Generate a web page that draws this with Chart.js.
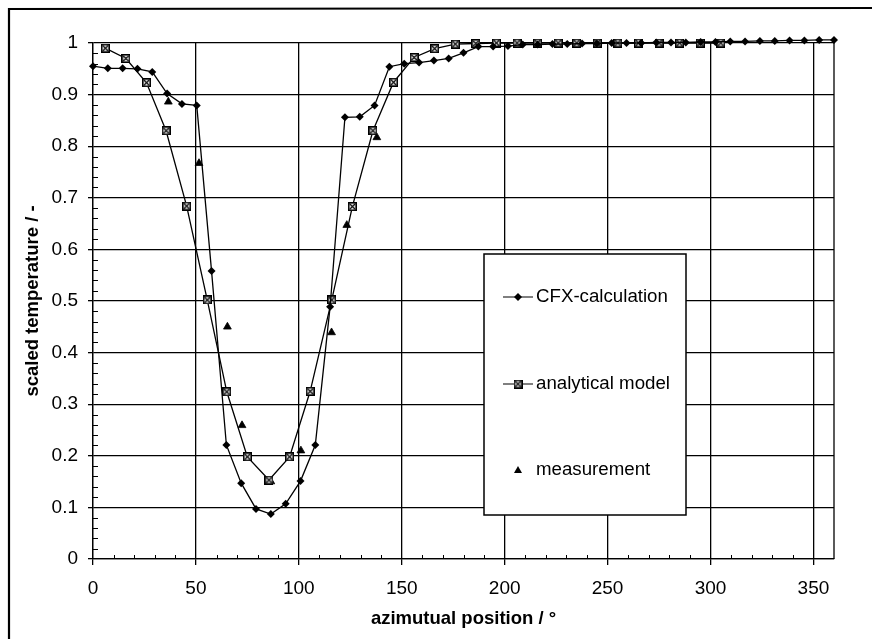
<!DOCTYPE html>
<html>
<head>
<meta charset="utf-8">
<script src="https://cdn.jsdelivr.net/npm/chart.js@4.4.1/dist/chart.umd.min.js"></script>
<style>
  html, body { margin: 0; padding: 0; background: #fff; }
</style>
</head>
<body>
<canvas id="chart" width="872" height="639"></canvas>
<script>
// CFX-calculation
const cfxAngle = [0, 7.2, 14.4, 21.6, 28.8, 36, 43.2, 50.4, 57.6, 64.8, 72, 79.2, 86.4, 93.6, 100.8, 108,
  115.2, 122.4, 129.6, 136.8, 144, 151.2, 158.4, 165.6, 172.8, 180, 187.2, 194.4, 201.6, 208.8, 216,
  223.2, 230.4, 237.6, 244.8, 252, 259.2, 266.4, 273.6, 280.8, 288, 295.2, 302.4, 309.6, 316.8, 324,
  331.2, 338.4, 345.6, 352.8, 360];
const cfxTemp = [0.955, 0.951, 0.951, 0.950, 0.944, 0.902, 0.882, 0.879, 0.558, 0.221, 0.147, 0.097, 0.087, 0.107, 0.151, 0.221,
  0.489, 0.856, 0.857, 0.879, 0.954, 0.960, 0.962, 0.966, 0.970, 0.981, 0.993, 0.993, 0.994, 0.997, 0.997,
  0.998, 0.998, 0.999, 0.999, 1.000, 1.000, 1.000, 1.001, 1.001, 1.001, 1.002, 1.002, 1.003, 1.003, 1.004,
  1.004, 1.005, 1.005, 1.006, 1.006];

// analytical model
const modelAngle = [6, 16, 26, 35.5, 45.5, 55.5, 65, 75, 85.5, 95.5, 105.5, 116, 126, 136, 146, 156,
  166, 176, 186, 196, 206, 216, 226, 235, 245, 255, 265, 275, 285, 295, 305];
const modelTemp = [0.990, 0.970, 0.923, 0.830, 0.684, 0.502, 0.324, 0.198, 0.153, 0.198, 0.325, 0.502, 0.683, 0.830, 0.924, 0.972,
  0.989, 0.998, 0.999, 1.0, 1.0, 1.0, 1.0, 1.0, 1.0, 1.0, 1.0, 1.0, 1.0, 1.0, 1.0];

// measurement
const measAngle = [36.6, 51.5, 65.3, 72.4, 86.4, 101, 115.9, 123.3, 137.9];
const measTemp = [0.886, 0.767, 0.450, 0.259, 0.150, 0.210, 0.439, 0.647, 0.817];

const xTickLabels = ['0', '50', '100', '150', '200', '250', '300', '350'];
const yTickLabels = ['0', '0.1', '0.2', '0.3', '0.4', '0.5', '0.6', '0.7', '0.8', '0.9', '1'];
const seriesNames = ['CFX-calculation', 'analytical model', 'measurement'];

function pts(xs, ys) {
  return xs.map((x, i) => ({x: x, y: ys[i]}));
}

// crossed square marker of the analytical model
const boxMark = document.createElement('canvas');
boxMark.width = 9;
boxMark.height = 9;
(function () {
  const c = boxMark.getContext('2d');
  c.fillStyle = '#fff';
  c.fillRect(0, 0, 9, 9);
  c.strokeStyle = '#000';
  c.lineWidth = 1.6;
  c.strokeRect(0.8, 0.8, 7.4, 7.4);
  c.lineWidth = 1.2;
  c.beginPath();
  c.moveTo(2, 2); c.lineTo(7, 7);
  c.moveTo(7, 2); c.lineTo(2, 7);
  c.stroke();
})();

const FONT = "'Liberation Sans', Arial, sans-serif";

const decorations = {
  id: 'decorations',
  beforeDatasetsDraw(chart) {
    const {ctx, chartArea: a, scales: {x, y}} = chart;
    ctx.save();
    ctx.strokeStyle = '#000';
    ctx.lineWidth = 1;
    ctx.beginPath();
    // minor ticks, inside
    for (let v = 10; v < 360; v += 10) {
      if (v % 50 === 0) continue;
      const px = Math.round(x.getPixelForValue(v)) + 0.5;
      ctx.moveTo(px, a.bottom); ctx.lineTo(px, a.bottom - 4);
    }
    for (let v = 0.02; v < 1; v += 0.02) {
      if (Math.abs(v * 10 - Math.round(v * 10)) < 1e-6) continue;
      const py = Math.round(y.getPixelForValue(v)) + 0.5;
      ctx.moveTo(a.left, py); ctx.lineTo(a.left + 5, py);
    }
    ctx.stroke();
    // plot area right edge
    ctx.lineWidth = 1.3;
    ctx.beginPath();
    ctx.moveTo(a.right, y.getPixelForValue(1) - 3);
    ctx.lineTo(a.right, a.bottom);
    ctx.stroke();
    // outer frame (left and top, cropped elsewhere)
    ctx.lineWidth = 2.2;
    ctx.beginPath();
    ctx.moveTo(9, 639);
    ctx.lineTo(9, 9);
    ctx.lineTo(872, 8);
    ctx.stroke();
    ctx.restore();
  },
  afterDatasetsDraw(chart) {
    const {ctx} = chart;
    ctx.save();
    // legend box
    ctx.fillStyle = '#fff';
    ctx.fillRect(484, 254, 202, 261);
    ctx.strokeStyle = '#000';
    ctx.lineWidth = 1.5;
    ctx.strokeRect(484, 254, 202, 261);

    const rows = [297, 384, 470];
    const mx = 518;
    ctx.lineWidth = 1.2;
    ctx.beginPath();
    ctx.moveTo(503, rows[0]); ctx.lineTo(533, rows[0]);
    ctx.moveTo(503, rows[1]); ctx.lineTo(533, rows[1]);
    ctx.stroke();
    ctx.fillStyle = '#000';
    ctx.beginPath();
    ctx.moveTo(mx, rows[0] - 4); ctx.lineTo(mx + 4, rows[0]);
    ctx.lineTo(mx, rows[0] + 4); ctx.lineTo(mx - 4, rows[0]);
    ctx.closePath();
    ctx.fill();
    ctx.drawImage(boxMark, mx - 4.5, rows[1] - 4.5);
    ctx.beginPath();
    ctx.moveTo(mx, rows[2] - 4); ctx.lineTo(mx + 4, rows[2] + 3);
    ctx.lineTo(mx - 4, rows[2] + 3);
    ctx.closePath();
    ctx.fill();

    ctx.font = '18.7px ' + FONT;
    ctx.textBaseline = 'middle';
    ctx.textAlign = 'left';
    ctx.fillText(seriesNames[0], 536, rows[0]);
    ctx.fillText(seriesNames[1], 536, rows[1]);
    ctx.fillText(seriesNames[2], 536, rows[2]);
    ctx.restore();
  }
};

new Chart(document.getElementById('chart'), {
  type: 'scatter',
  data: {
    datasets: [
      {
        label: seriesNames[0],
        data: pts(cfxAngle, cfxTemp),
        showLine: true,
        borderColor: '#000',
        borderWidth: 1.3,
        backgroundColor: '#000',
        pointStyle: 'rectRot',
        pointRadius: 4,
        pointBorderWidth: 0,
        clip: false
      },
      {
        label: seriesNames[1],
        data: pts(modelAngle, modelTemp),
        showLine: true,
        borderColor: '#000',
        borderWidth: 1.3,
        backgroundColor: '#fff',
        pointStyle: boxMark,
        clip: false
      },
      {
        label: seriesNames[2],
        data: pts(measAngle, measTemp),
        showLine: false,
        borderColor: '#000',
        backgroundColor: '#000',
        pointStyle: 'triangle',
        pointRadius: 4.5,
        pointBorderWidth: 0.8,
        clip: false
      }
    ]
  },
  options: {
    responsive: false,
    animation: false,
    layout: {padding: {left: 0, right: 38, top: 43, bottom: 0}},
    plugins: {
      legend: {display: false},
      tooltip: {enabled: false}
    },
    scales: {
      x: {
        type: 'linear',
        min: 0,
        max: 360,
        afterFit(s) { s.height = 80; },
        ticks: {
          stepSize: 50,
          includeBounds: false,
          color: '#000',
          padding: 12,
          maxRotation: 0,
          font: {family: FONT, size: 19},
          callback: (v) => xTickLabels[v / 50]
        },
        grid: {color: '#000', lineWidth: 1.3, tickLength: 6},
        border: {display: true, color: '#000', width: 1.3},
        title: {
          display: true,
          text: 'azimutual position / °',
          color: '#000',
          font: {family: FONT, size: 18.5, weight: 'bold'},
          padding: {top: 0, bottom: 9}
        }
      },
      y: {
        type: 'linear',
        min: 0,
        max: 1,
        afterFit(s) { s.width = 93; },
        ticks: {
          stepSize: 0.1,
          color: '#000',
          padding: 10,
          font: {family: FONT, size: 19},
          callback: (v) => yTickLabels[Math.round(v * 10)]
        },
        grid: {color: '#000', lineWidth: 1.3, tickLength: 5},
        border: {display: true, color: '#000', width: 1.3},
        title: {
          display: true,
          text: 'scaled temperature / -',
          color: '#000',
          font: {family: FONT, size: 18.5, weight: 'bold'},
          padding: {top: 22, bottom: 0}
        }
      }
    }
  },
  plugins: [decorations]
});
</script>
</body>
</html>
